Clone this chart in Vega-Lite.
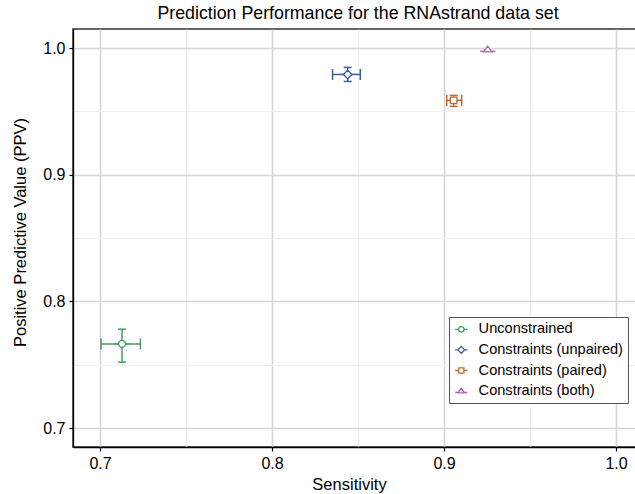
{
  "$schema": "https://vega.github.io/schema/vega-lite/v6.json",
  "width": 564,
  "height": 418,
  "autosize": {"type": "none"},
  "padding": {"left": 73, "top": 29, "right": 0, "bottom": 47},
  "background": "white",
  "title": {"text": "Prediction Performance for the RNAstrand data set", "fontSize": 17.8, "font": "Liberation Sans", "fontWeight": "normal", "color": "black", "anchor": "middle", "offset": 6, "dx": 3},
  "config": {
    "font": "Liberation Sans",
    "view": {"stroke": "#333333", "strokeWidth": 1.5},
    "axis": {
      "domainColor": "black", "domainWidth": 1.3,
      "tickColor": "black", "tickSize": 4, "tickWidth": 1.2,
      "labelFontSize": 16, "labelColor": "black",
      "titleFontSize": 16.5, "titleFontWeight": "normal", "titleColor": "black",
      "grid": true
    },
    "legend": {
      "strokeColor": "#555555", "fillColor": "white", "padding": 5, "cornerRadius": 0,
      "labelFontSize": 14.6, "labelColor": "black", "symbolSize": 150, "symbolStrokeWidth": 1.3,
      "symbolFillColor": "white", "rowPadding": 5.6, "labelOffset": 10, "labelLimit": 300
    }
  },
  "data": {"values": [
    {"method": "Unconstrained", "x": 0.7128, "xlo": 0.7006, "xhi": 0.7235, "y": 0.7664, "ylo": 0.752, "yhi": 0.778},
    {"method": "Constraints (unpaired)", "x": 0.844, "xlo": 0.8352, "xhi": 0.8513, "y": 0.9791, "ylo": 0.9736, "yhi": 0.9847},
    {"method": "Constraints (paired)", "x": 0.9056, "xlo": 0.9016, "xhi": 0.9103, "y": 0.9586, "ylo": 0.9539, "yhi": 0.9626},
    {"method": "Constraints (both)", "x": 0.9254, "xlo": null, "xhi": null, "y": 0.9987, "ylo": null, "yhi": null}
  ]},
  "layer": [
    {
      "transform": [{"filter": "datum.xlo != null"}],
      "mark": {"type": "rule", "strokeWidth": 1.5},
      "encoding": {
        "x": {"field": "xlo", "type": "quantitative",
          "scale": {"domain": [0.6843, 1.0122], "nice": false, "zero": false},
          "axis": {"title": "Sensitivity", "values": [0.7, 0.75, 0.8, 0.85, 0.9, 0.95, 1.0],
            "labelExpr": "round(datum.value*20)%2==0 ? format(datum.value, '.1f') : ''",
            "gridColor": {"condition": {"test": "round(datum.value*20)%2==0", "value": "#d6d6d6"}, "value": "#efefef"},
            "gridWidth": {"condition": {"test": "round(datum.value*20)%2==0", "value": 1.6}, "value": 1},
            "tickOpacity": {"condition": {"test": "round(datum.value*20)%2==0", "value": 1}, "value": 0},
            "labelPadding": 4, "titlePadding": 5, "titleX": 276}},
        "x2": {"field": "xhi"},
        "y": {"field": "y", "type": "quantitative",
          "scale": {"domain": [0.685, 1.015], "nice": false, "zero": false},
          "axis": {"title": "Positive Predictive Value (PPV)", "values": [0.7, 0.75, 0.8, 0.85, 0.9, 0.95, 1.0],
            "labelExpr": "round(datum.value*20)%2==0 ? format(datum.value, '.1f') : ''",
            "gridColor": {"condition": {"test": "round(datum.value*20)%2==0", "value": "#d6d6d6"}, "value": "#efefef"},
            "gridWidth": {"condition": {"test": "round(datum.value*20)%2==0", "value": 1.6}, "value": 1},
            "tickOpacity": {"condition": {"test": "round(datum.value*20)%2==0", "value": 1}, "value": 0},
            "labelPadding": 4, "titlePadding": 14, "titleY": 203}},
        "stroke": {"field": "method", "type": "nominal", "legend": null,
          "scale": {"domain": ["Constraints (both)", "Constraints (paired)", "Constraints (unpaired)", "Unconstrained"],
                    "range": ["#b462a9", "#c4692f", "#3f5eaa", "#4a9a62"]}}
      }
    },
    {
      "transform": [{"filter": "datum.ylo != null"}],
      "mark": {"type": "rule", "strokeWidth": 1.5},
      "encoding": {
        "x": {"field": "x", "type": "quantitative"},
        "y": {"field": "ylo", "type": "quantitative"},
        "y2": {"field": "yhi"},
        "stroke": {"field": "method", "type": "nominal", "legend": null}
      }
    },
    {
      "transform": [{"filter": "datum.xlo != null"}],
      "mark": {"type": "tick", "orient": "vertical", "size": 11, "thickness": 1.5, "opacity": 1},
      "encoding": {"x": {"field": "xlo", "type": "quantitative"}, "y": {"field": "y", "type": "quantitative"},
        "fill": {"field": "method", "type": "nominal", "legend": null,
          "scale": {"domain": ["Constraints (both)", "Constraints (paired)", "Constraints (unpaired)", "Unconstrained"],
                    "range": ["#b462a9", "#c4692f", "#3f5eaa", "#4a9a62"]}}}
    },
    {
      "transform": [{"filter": "datum.xlo != null"}],
      "mark": {"type": "tick", "orient": "vertical", "size": 11, "thickness": 1.5, "opacity": 1},
      "encoding": {"x": {"field": "xhi", "type": "quantitative"}, "y": {"field": "y", "type": "quantitative"},
        "fill": {"field": "method", "type": "nominal", "legend": null}}
    },
    {
      "transform": [{"filter": "datum.ylo != null"}],
      "mark": {"type": "tick", "orient": "horizontal", "size": 8, "thickness": 1.5, "opacity": 1},
      "encoding": {"x": {"field": "x", "type": "quantitative"}, "y": {"field": "ylo", "type": "quantitative"},
        "fill": {"field": "method", "type": "nominal", "legend": null}}
    },
    {
      "transform": [{"filter": "datum.ylo != null"}],
      "mark": {"type": "tick", "orient": "horizontal", "size": 8, "thickness": 1.5, "opacity": 1},
      "encoding": {"x": {"field": "x", "type": "quantitative"}, "y": {"field": "yhi", "type": "quantitative"},
        "fill": {"field": "method", "type": "nominal", "legend": null}}
    },
    {
      "mark": {"type": "point", "filled": false, "fill": "white", "fillOpacity": 1, "strokeWidth": 1.3, "size": 240, "opacity": 1},
      "encoding": {
        "x": {"field": "x", "type": "quantitative"},
        "y": {"field": "y", "type": "quantitative"},
        "color": {"field": "method", "type": "nominal",
          "scale": {"domain": ["Unconstrained", "Constraints (unpaired)", "Constraints (paired)", "Constraints (both)"],
                    "range": ["#4a9a62", "#3f5eaa", "#c4692f", "#b462a9"]},
          "legend": {"title": null, "orient": "none", "legendX": 376, "legendY": 288}},
        "shape": {"field": "method", "type": "nominal",
          "scale": {"domain": ["Unconstrained", "Constraints (unpaired)", "Constraints (paired)", "Constraints (both)"],
            "range": [
              "M-1,0H-0.45M0.45,0H1M-0.45,0A0.45,0.45,0,1,1,0.45,0A0.45,0.45,0,1,1,-0.45,0Z",
              "M-1,0H-0.55M0.55,0H1M-0.55,0L0,-0.55L0.55,0L0,0.55Z",
              "M-1,0H-0.42M0.42,0H1M-0.42,-0.42H0.42V0.42H-0.42Z",
              "M-1,0.2H-0.55M0.55,0.2H1M-0.55,0.3L0,-0.45L0.55,0.3Z"
            ]},
          "legend": {"title": null, "orient": "none", "legendX": 376, "legendY": 288}}
      }
    }
  ]
}
